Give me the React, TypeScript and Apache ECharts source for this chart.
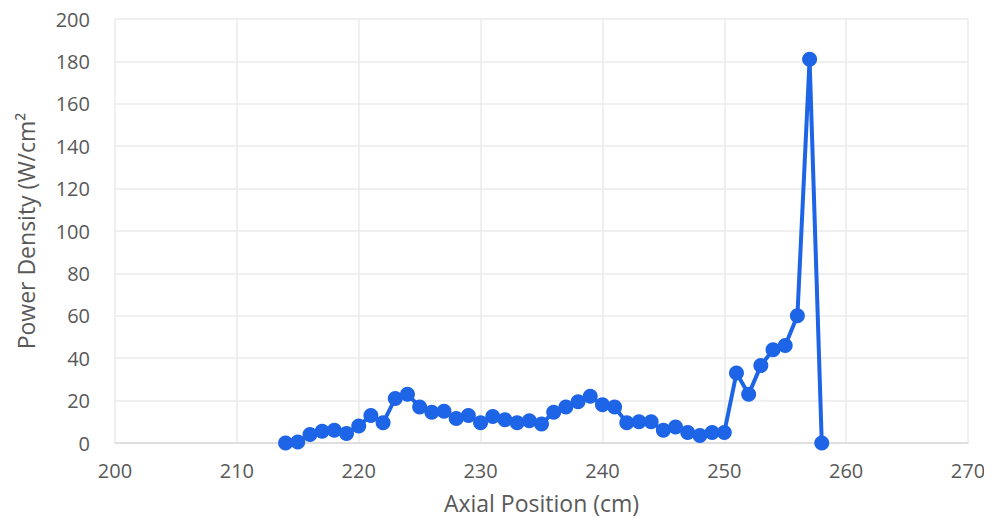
import React, { useEffect, useRef } from "react";
import * as echarts from "echarts";

const positions = [
  214, 215, 216, 217, 218, 219, 220, 221, 222, 223, 224, 225, 226, 227, 228,
  229, 230, 231, 232, 233, 234, 235, 236, 237, 238, 239, 240, 241, 242, 243,
  244, 245, 246, 247, 248, 249, 250, 251, 252, 253, 254, 255, 256, 257, 258,
];
const density = [
  0, 0.5, 4, 5.5, 6, 4.5, 8, 13, 9.5, 21, 23, 17, 14.5, 15, 11.5,
  13, 9.5, 12.5, 11, 9.5, 10.5, 9, 14.5, 17, 19.5, 22, 18, 17, 9.5, 10,
  10, 6, 7.5, 5, 3.5, 5, 5, 33, 23, 36.5, 44, 46, 60, 181, 0,
];

export default function App() {
  const ref = useRef<HTMLDivElement>(null);
  useEffect(() => {
    if (!ref.current) return;
    const chart = echarts.init(ref.current, undefined, { renderer: "svg" });
    const font = "'Open Sans', 'Noto Sans', sans-serif";
    chart.setOption({
      animation: false,
      backgroundColor: "#ffffff",
      grid: {
        left: 115,
        right: 24,
        top: 19,
        bottom: 84,
        containLabel: false,
        outerBoundsMode: "none",
      },
      xAxis: {
        type: "value",
        min: 200,
        max: 270,
        interval: 10,
        name: "Axial Position (cm)",
        nameLocation: "middle",
        nameGap: 48,
        nameTextStyle: { color: "#595959", fontSize: 23, fontFamily: font },
        axisLine: { show: true, lineStyle: { color: "#d9d9d9", width: 1.5 } },
        axisTick: { show: false },
        axisLabel: { color: "#595959", fontSize: 20, fontFamily: font, margin: 17 },
        splitLine: { show: true, lineStyle: { color: "#ebebeb", width: 1.5 } },
      },
      yAxis: {
        type: "value",
        min: 0,
        max: 200,
        interval: 20,
        name: "Power Density (W/cm\u00B2",
        nameLocation: "middle",
        nameGap: 78,
        nameTextStyle: { color: "#595959", fontSize: 23, fontFamily: font },
        axisLine: { show: false },
        axisTick: { show: false },
        axisLabel: { color: "#595959", fontSize: 20, fontFamily: font, margin: 25 },
        splitLine: { show: true, lineStyle: { color: "#ebebeb", width: 1.5 } },
      },
      series: [
        {
          type: "line",
          data: positions.map((p, i) => [p, density[i]]),
          symbol: "circle",
          symbolSize: 15,
          lineStyle: { color: "#1E64E6", width: 4 },
          itemStyle: { color: "#1E64E6" },
        },
      ],
    });
    return () => chart.dispose();
  }, []);
  return <div ref={ref} style={{ width: 992, height: 527, margin: -8 }} />;
}
